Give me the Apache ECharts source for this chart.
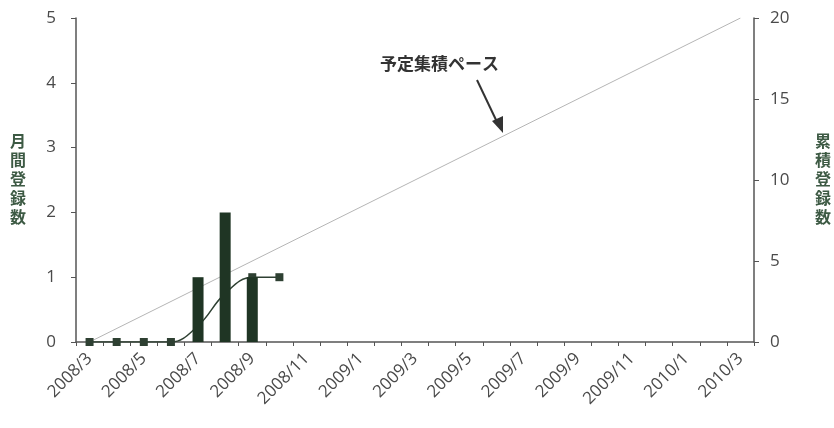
<!DOCTYPE html>
<html>
<head>
<meta charset="utf-8">
<script src="https://cdn.jsdelivr.net/npm/echarts@6/dist/echarts.min.js"></script>
<style>
  html, body { margin: 0; padding: 0; background: #fff; }
  #chart { width: 834px; height: 428px; }
</style>
</head>
<body>
<div id="chart"></div>
<script>
// months 2008/3 .. 2010/3
const months = ['2008/3','2008/4','2008/5','2008/6','2008/7','2008/8','2008/9','2008/10','2008/11','2008/12',
  '2009/1','2009/2','2009/3','2009/4','2009/5','2009/6','2009/7','2009/8','2009/9','2009/10','2009/11','2009/12',
  '2010/1','2010/2','2010/3']
const monthly = [null, null, null, null, 1, 2, 1, null]
const cumulative = [0, 0, 0, 0, 1, 3, 4, 4]
const planStart = ['2008/3', 0]
const planEnd = ['2010/3', 20]

const AXIS = '#555'
const TEXT = '#4a4a4a'
const FONT = '"Open Sans", "Noto Sans CJK JP", sans-serif'

const chart = echarts.init(document.getElementById('chart'))

chart.setOption({
  animation: false,
  textStyle: { fontFamily: FONT },
  grid: { left: 76, right: 78, top: 18, bottom: 86 },
  xAxis: {
    type: 'category',
    data: months,
    boundaryGap: true,
    axisLine: { lineStyle: { color: AXIS, width: 1.5 } },
    axisTick: { show: true, interval: 0, length: 4, lineStyle: { color: AXIS } },
    axisLabel: { interval: 1, rotate: 45, color: TEXT, fontSize: 17, fontFamily: FONT, margin: 14 }
  },
  yAxis: [{
    type: 'value', min: 0, max: 5, interval: 1,
    name: '月\n間\n登\n録\n数', nameLocation: 'middle', nameRotate: 0, nameGap: 50,
    nameTextStyle: { color: '#3d5a44', fontSize: 16, fontWeight: 'bold', lineHeight: 19, fontFamily: FONT },
    axisLine: { show: true, lineStyle: { color: AXIS, width: 1.5 } },
    axisTick: { show: true, length: 5, lineStyle: { color: AXIS } },
    axisLabel: { color: TEXT, fontSize: 17, margin: 20 },
    splitLine: { show: false }
  }, {
    type: 'value', min: 0, max: 20, interval: 5,
    name: '累\n積\n登\n録\n数', nameLocation: 'middle', nameRotate: 0, nameGap: 61,
    nameTextStyle: { color: '#3d5a44', fontSize: 16, fontWeight: 'bold', lineHeight: 19, fontFamily: FONT },
    axisLine: { show: true, lineStyle: { color: AXIS, width: 1.5 } },
    axisTick: { show: true, length: 5, lineStyle: { color: AXIS } },
    axisLabel: { color: TEXT, fontSize: 17, margin: 16 },
    splitLine: { show: false }
  }],
  series: [{
    name: '予定集積ペース',
    type: 'line',
    yAxisIndex: 1,
    data: [planStart, planEnd],
    symbol: 'none',
    lineStyle: { color: '#b5b5b5', width: 1 },
    z: 1
  }, {
    name: '累積登録数',
    type: 'line',
    yAxisIndex: 1,
    data: cumulative,
    smooth: 0.4,
    symbol: 'rect',
    symbolSize: 8,
    itemStyle: { color: '#2e4032' },
    lineStyle: { color: '#2e4032', width: 1.5 },
    z: 2
  }, {
    name: '月間登録数',
    type: 'bar',
    yAxisIndex: 0,
    data: monthly,
    barWidth: 11,
    itemStyle: { color: '#1f3524' },
    z: 3
  }],
  graphic: [{
    type: 'text',
    left: 380, top: 55,
    style: { text: '予定集積ペース', fill: '#333', font: 'bold 17px "Noto Sans CJK JP", sans-serif' }
  }, {
    type: 'line',
    shape: { x1: 477, y1: 80, x2: 497, y2: 122 },
    style: { stroke: '#333', lineWidth: 2 }
  }, {
    type: 'polygon',
    shape: { points: [[503, 133], [492, 121], [503, 116]] },
    style: { fill: '#333' }
  }]
})
</script>
</body>
</html>
